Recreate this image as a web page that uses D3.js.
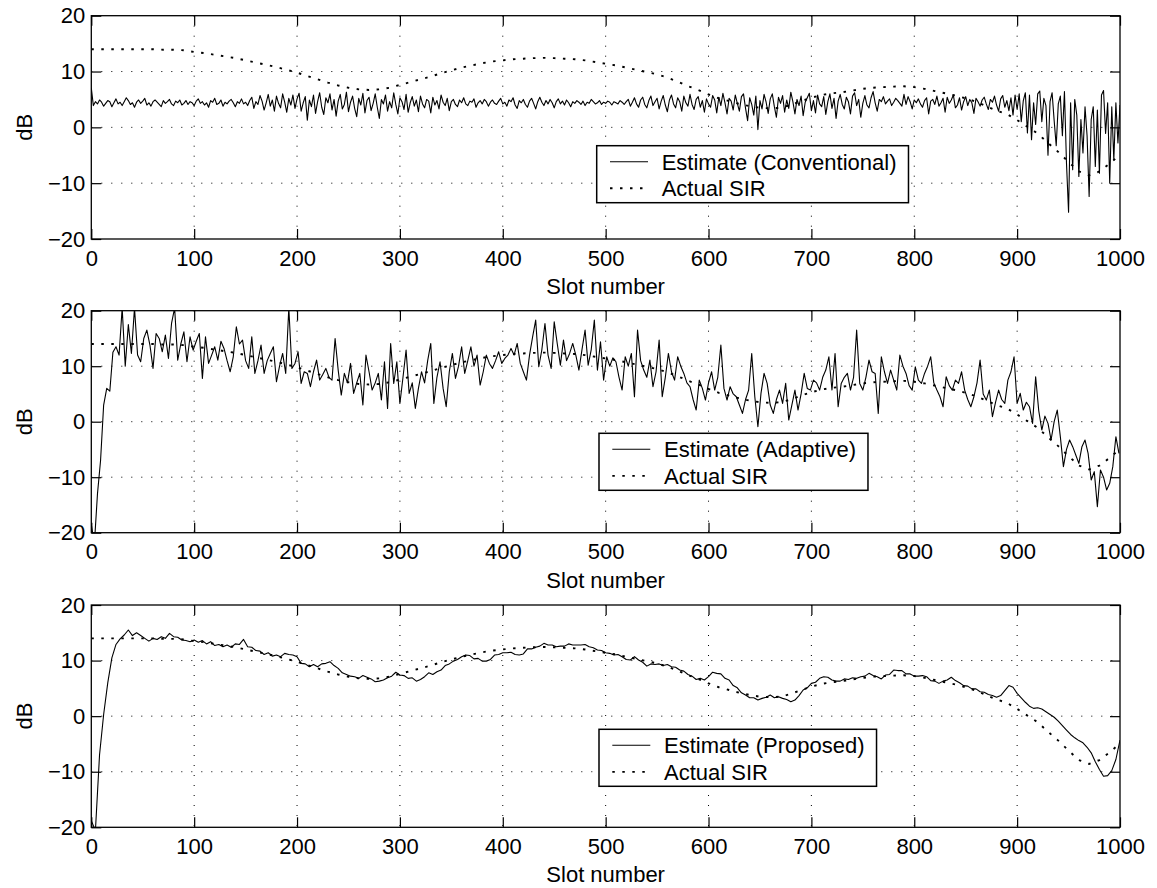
<!DOCTYPE html>
<html>
<head>
<meta charset="utf-8">
<script src="https://cdn.jsdelivr.net/npm/d3@7"></script>
<style>
  html, body { margin: 0; padding: 0; background: #fff; }
  svg { display: block; font-family: "Liberation Sans", Arial, Helvetica, sans-serif; }
</style>
</head>
<body>
<svg id="fig" width="1157" height="888"></svg>
<script>
// ---- axis ticks and labels ----
const slotTicks = [0, 100, 200, 300, 400, 500, 600, 700, 800, 900, 1000];
const dbTicks = [-20, -10, 0, 10, 20];
const estimateNames = ["Estimate (Conventional)", "Estimate (Adaptive)", "Estimate (Proposed)"];
const sirName = "Actual SIR";
const xLabel = "Slot number";
const yLabel = "dB";

// ---- actual SIR, one value every 10 slots ----
const sirStep = 10;
const actualSIR = [
  14.0, 14.0, 14.0, 14.0, 14.0, 14.0, 14.0, 13.9, 13.9, 13.8,
  13.5, 13.3, 13.0, 12.7, 12.4, 12.0, 11.6, 11.2, 10.8, 10.3,
  9.8, 9.2, 8.6, 8.0, 7.5, 7.1, 6.8, 6.7, 6.8, 7.1,
  7.6, 8.1, 8.6, 9.1, 9.7, 10.2, 10.7, 11.1, 11.5, 11.8,
  12.0, 12.2, 12.3, 12.4, 12.45, 12.4, 12.3, 12.2, 12.0, 11.7,
  11.4, 11.1, 10.7, 10.3, 9.9, 9.5, 8.9, 8.2, 7.4, 6.7,
  5.9, 5.2, 4.7, 4.2, 3.8, 3.5, 3.4, 3.5, 4.0, 4.7,
  5.3, 5.8, 6.1, 6.3, 6.6, 6.9, 7.1, 7.2, 7.3, 7.35,
  7.2, 6.9, 6.5, 6.1, 5.7, 5.2, 4.6, 3.8, 3.0, 2.4,
  1.3, 0.1, -1.1, -2.8, -4.4, -6.2, -7.9, -8.6, -7.9, -6.5,
  -4.9
];

// ---- conventional estimate, one value every 2 slots ----
const conventionalStep = 2;
const conventionalEst = [
  7.1,3.9,4.6,4.2,4.9, 4.5,3.8,4.3,4.8,4.6, 3.7,4.4,5.1,4.2,4.5, 3.9,4.6,5.3,4.8,4.1, 4.4,3.6,4.5,4.9,4.3,
  4.7,5.2,4.0,4.4,3.8, 4.6,4.9,4.5,4.1,3.7, 4.8,4.3,4.6,5.0,4.2, 3.9,4.7,4.4,4.9,4.0, 4.3,4.8,4.1,4.6,4.4,
  3.9,4.7,5.1,4.3,4.6, 4.0,4.4,3.6,4.8,4.5, 5.2,4.1,4.3,4.9,3.8, 4.5,4.2,4.7,5.0,4.4, 3.7,4.6,4.3,5.1,4.2,
  4.5,3.9,4.8,5.4,3.4, 4.6,4.1,5.7,4.7,3.1, 4.4,5.9,3.8,4.9,2.9, 5.6,4.3,3.5,6.0,4.5, 2.7,5.2,4.0,5.8,3.4,
  5.1,6.1,2.9,4.4,5.5, 1.3,4.9,3.7,5.8,2.5, 4.6,6.2,3.6,2.3,5.3, 4.4,6.0,3.1,5.0,2.0, 4.7,5.9,3.3,4.1,6.3,
  2.8,4.5,5.6,3.4,1.9, 5.2,4.0,6.1,2.6,4.8, 5.4,3.0,4.3,6.0,3.6, 1.6,5.0,4.2,5.8,2.9, 4.6,3.5,6.2,4.1,2.4,
  5.3,4.6,3.2,5.9,2.7, 4.4,5.5,3.8,4.9,2.8, 5.6,4.2,3.5,5.0,4.7, 2.6,5.4,4.0,4.8,3.3, 5.8,4.5,3.9,5.2,3.0,
  4.6,5.0,4.1,3.7,4.9, 4.4,5.3,4.2,3.9,4.7, 4.5,5.1,3.6,4.4,4.8, 4.2,5.0,4.6,3.8,4.5, 4.9,4.3,4.1,4.7,5.2,
  4.2,4.5,3.8,4.9,4.6, 5.3,4.0,3.4,4.8,4.4, 5.0,4.1,3.6,4.7,5.2, 4.3,3.3,4.6,5.4,4.5, 3.9,4.8,4.2,5.0,4.4,
  3.5,4.6,5.1,4.2,4.7, 4.0,4.9,4.4,3.7,4.6, 4.3,4.8,4.5,4.1,4.7, 3.9,4.5,4.3,5.0,4.6, 4.2,4.4,4.8,4.1,4.5,
  4.3,4.7,4.5,4.0,4.6, 4.4,4.2,4.8,4.5,4.1, 4.6,5.0,3.8,4.5,5.3, 4.2,3.6,4.9,5.4,4.1, 3.5,4.8,5.6,3.9,4.6,
  5.2,3.3,4.7,5.7,4.0, 2.8,4.9,5.8,4.2,3.5, 5.3,4.6,2.9,5.6,4.4, 3.8,5.9,4.1,3.2,5.0, 5.5,3.6,4.8,2.7,5.1,
  4.2,3.6,5.7,4.9,2.6, 5.4,3.9,6.1,4.4,2.4, 5.2,4.7,3.1,5.8,4.3, 2.9,5.5,6.0,3.4,1.2, 5.3,4.1,2.2,5.6,-0.4,
  4.8,3.3,5.9,4.5,2.5, 5.1,6.0,3.7,1.8,5.4, 4.3,5.7,2.7,4.9,3.4, 6.3,4.6,2.4,5.0,3.9, 5.6,2.1,4.5,5.3,6.1,
  3.0,4.8,2.6,5.8,4.2, 3.7,5.5,2.3,4.6,6.0, 3.4,5.2,1.6,4.7,5.9, 4.1,3.3,5.4,4.6,2.4, 5.6,6.2,3.9,5.0,1.8,
  4.3,5.7,4.0,3.5,5.3, 6.4,4.4,2.9,5.0,4.6, 5.5,4.2,4.7,5.1,3.9, 4.5,5.2,4.8,4.3,3.8, 5.9,4.1,5.5,4.6,3.3,
  4.9,4.4,5.1,4.2,3.6, 4.8,5.3,2.4,4.7,5.0, 4.1,5.6,3.8,4.4,5.2, 2.7,5.4,4.3,4.9,5.8, 3.5,4.0,5.3,3.1,4.6,
  5.5,3.9,5.0,4.4,2.5, 5.2,4.6,3.8,4.9,5.4, 4.2,3.2,5.0,4.5,5.6, 4.0,2.9,5.1,5.7,3.6, 4.8,3.0,5.3,2.2,5.8,
  3.2,6.0,1.0,4.8,6.2, -1.0,5.8,-2.2,4.4,0.5, 6.0,6.5,1.0,5.2,3.9, -5.0,4.6,6.2,1.2,-3.3, 4.2,5.6,-1.5,6.4,-6.5,
  -15.2,4.4,-7.6,5.0,2.2, -8.8,1.4,-4.6,3.7,-1.5, -12.4,1.4,3.7,-7.0,3.1, -8.2,5.8,6.6,-1.1,4.4, -10.0,3.7,-5.8,4.4,-2.8,
  4.0
];

// ---- adaptive estimate, one value every 3 slots ----
const adaptiveStep = 3;
const adaptiveEst = [
  -18.5, -22, -13, -7, 3, 6, 5.5, 12.5, 13.5, 12,
  20.5, 10, 17.5, 12.3, 20.5, 12, 10.8, 15, 16.5, 13.8,
  9.6, 15.9, 15, 12.6, 15.6, 11.4, 17.7, 20.5, 11.1, 14,
  16.2, 10.8, 15.3, 12.9, 14.5, 15.9, 7.8, 15.3, 10.5, 12,
  13.5, 11.1, 14.5, 13.2, 11, 9.0, 11.7, 17.1, 14, 14.7,
  11, 9.6, 15.3, 8.7, 11, 13.8, 8.7, 11, 12.3, 13.5,
  7.2, 10, 12.3, 8.7, 20.5, 9.6, 10.5, 12.6, 6.9, 9,
  8.7, 6.3, 9, 11.1, 7.5, 8.5, 9.6, 8, 7.5, 15,
  9.3, 4.8, 8.7, 7, 10.5, 5.1, 7, 8.7, 3.0, 12.0,
  9, 5.7, 7, 8.7, 3.9, 10.8, 2.4, 14.1, 6.9, 10.8,
  3.3, 8, 12.9, 5.1, 7, 2.4, 6, 9, 7, 11,
  14.1, 3.3, 8, 10.8, 6, 2.7, 9, 12.3, 7.8, 10,
  13.5, 8.7, 11, 13.5, 10, 12, 6.6, 9, 12, 10.5,
  9.6, 11, 12.6, 10.5, 11.4, 12, 13.2, 12, 14.1, 10.5,
  9, 7.5, 12, 15.3, 18.3, 9.9, 13, 17.7, 12, 9.6,
  18, 14, 10.2, 14.7, 11, 12.3, 14.1, 12, 9.3, 13,
  16.5, 10.2, 13, 18.3, 9.3, 14.4, 7.5, 11.7, 10, 11.5,
  10.8, 8, 5.7, 11.7, 10, 12.3, 4.5, 16.5, 11, 9.3,
  8, 11.1, 6.3, 9, 14.7, 4.5, 8, 12.3, 9, 7.5,
  11.7, 10, 8.7, 7, 6.3, 4, 2.1, 7.5, 6, 3.9,
  7, 9, 5.7, 8, 13.8, 6, 3.9, 6.3, 5, 4.5,
  3, 1.5, 4, 5.7, 12.3, 4.5, -0.9, 5.1, 8.7, 6.9,
  3, 1.5, 4, 5.7, 3.3, 6.9, 0.3, 3, 5.7, 2.1,
  5, 8.7, 6, 5.7, 7.5, 7, 5.7, 8, 9.3, 11.7,
  5.7, 12.3, 2.7, 6.9, 8, 8.7, 5.7, 8, 16.5, 6.9,
  5.7, 8, 11.1, 9, 8.7, 1.5, 11.7, 9, 6.9, 9.3,
  7.5, 5.7, 12, 10, 8.7, 6.5, 5.7, 9.9, 7.5, 6.9,
  8.7, 10, 11.7, 7, 5.7, 4.5, 2.7, 8.1, 6.5, 5.7,
  7.5, 6.9, 9, 5.7, 4, 2.7, 4.5, 7, 11.1, 5,
  3.9, 5.7, 0.9, 3.5, 5.7, 4, 3.3, 7.5, 9, 11.7,
  3.3, 5.1, 2.1, 3.5, 2.7, -0.3, 8.1, 2, -1.5, 1,
  -0.3, -3.3, 0, 2.1, -2.7, -8.1, -5, -3.3, -4.5, -6,
  -7.5, -4.5, -3.3, -5.7, -10.5, -9, -15.3, -8.7, -10, -12.3,
  -11.1, -8.1, -2.7, -5.7
];

// ---- proposed estimate, one value every 4 slots ----
const proposedStep = 4;
const proposedEst = [
  -18.8, -20.6, -7.0, 0.3, 6.0, 10.5, 12.9, 13.9, 14.6, 15.5,
  14.5, 15.0, 14.5, 14.0, 13.5, 14.0, 13.8, 14.3, 14.0, 14.9,
  14.3, 14.2, 13.7, 13.6, 13.4, 13.7, 13.3, 13.6, 13.0, 13.4,
  12.7, 12.9, 12.5, 12.8, 12.4, 13.0, 12.9, 13.8, 12.5, 12.4,
  11.8, 11.7, 11.1, 11.4, 10.8, 11.0, 10.7, 11.3, 11.1, 11.0,
  10.7, 9.5, 9.4, 8.9, 9.3, 8.9, 9.4, 9.5, 9.8, 9.1,
  8.6, 7.8, 7.5, 7.2, 7.1, 6.8, 7.3, 7.0, 6.7, 6.2,
  6.3, 6.5, 6.9, 7.2, 7.9, 7.4, 7.3, 6.8, 6.9, 6.3,
  6.6, 7.1, 7.8, 7.5, 8.0, 8.3, 9.1, 9.4, 9.9, 10.2,
  10.7, 11.0, 10.9, 10.3, 10.4, 9.9, 9.9, 10.2, 11.0, 11.1,
  11.4, 11.4, 11.5, 11.1, 11.0, 11.2, 12.1, 12.1, 12.4, 12.6,
  13.1, 12.8, 12.8, 12.5, 12.6, 12.6, 13.0, 12.8, 12.8, 12.8,
  12.9, 12.5, 12.3, 11.9, 11.8, 11.4, 11.3, 11.0, 11.1, 10.7,
  10.2, 10.1, 10.7, 10.1, 9.7, 9.0, 9.4, 9.3, 9.4, 9.1,
  9.3, 8.9, 8.8, 8.3, 8.1, 7.5, 7.2, 6.6, 6.8, 6.5,
  7.1, 7.9, 7.7, 7.6, 6.8, 6.5, 5.5, 5.1, 4.2, 3.8,
  3.3, 3.3, 2.9, 3.2, 3.4, 3.8, 3.3, 3.5, 3.2, 3.0,
  2.6, 2.9, 3.7, 4.7, 5.1, 5.9, 6.1, 6.8, 7.1, 7.0,
  6.5, 6.3, 6.3, 6.7, 6.6, 6.9, 6.8, 7.1, 7.2, 7.7,
  7.3, 7.1, 6.7, 7.4, 7.5, 8.3, 8.2, 8.2, 7.6, 7.6,
  7.2, 7.2, 7.3, 7.1, 6.4, 6.3, 5.9, 6.3, 6.5, 7.0,
  6.4, 6.0, 5.5, 5.4, 4.9, 4.9, 4.4, 4.3, 3.9, 3.7,
  3.4, 3.7, 4.6, 5.5, 5.2, 4.1, 3.3, 2.5, 1.8, 1.4,
  1.5, 1.3, 0.8, 0.3, -0.2, -0.9, -1.7, -2.5, -3.3, -3.9,
  -4.4, -4.8, -5.6, -6.6, -8.2, -9.6, -10.8, -10.7, -9.8, -7.8,
  -4.3
];

// ---- figure layout ----
const FONT = 22;
const plotLeft = 91.3, plotRight = 1120;
const panels = [
  { top: 15.7,  bottom: 239,   est: conventionalEst, step: conventionalStep, name: estimateNames[0], legend: { x: 596.7, y: 145.7 } },
  { top: 310.7, bottom: 532.7, est: adaptiveEst,     step: adaptiveStep,     name: estimateNames[1], legend: { x: 599,   y: 433.3 } },
  { top: 605,   bottom: 827.3, est: proposedEst,     step: proposedStep,     name: estimateNames[2], legend: { x: 599,   y: 729.3 } }
];
const sirDash = "2.5,7.5";

const svg = d3.select("#fig");
svg.append("rect").attr("width", 1157).attr("height", 888).attr("fill", "#fff");

const x = d3.scaleLinear().domain([0, 1000]).range([plotLeft, plotRight]);
const sirPoints = actualSIR.map((v, i) => [i * sirStep, v]);

panels.forEach((p, k) => {
  const y = d3.scaleLinear().domain([-20, 20]).range([p.bottom, p.top]);
  const g = svg.append("g");
  const w = plotRight - plotLeft, h = p.bottom - p.top;

  const clipId = "clip" + k;
  g.append("clipPath").attr("id", clipId)
    .append("rect").attr("x", plotLeft).attr("y", p.top).attr("width", w).attr("height", h);

  // dotted grid
  const grid = g.append("g").attr("stroke", "#000").attr("stroke-width", 1)
    .attr("stroke-dasharray", "1,9").attr("fill", "none");
  grid.selectAll("line.gx").data(slotTicks.slice(1, -1)).join("line").attr("class", "gx")
    .attr("x1", d => x(d)).attr("x2", d => x(d)).attr("y1", p.top).attr("y2", p.bottom);
  grid.selectAll("line.gy").data(dbTicks.slice(1, -1)).join("line").attr("class", "gy")
    .attr("x1", plotLeft).attr("x2", plotRight).attr("y1", d => y(d)).attr("y2", d => y(d));

  // data lines
  const line = d3.line().x(d => x(d[0])).y(d => y(d[1]));
  const estPoints = p.est.map((v, i) => [i * p.step, v]);
  const data = g.append("g").attr("clip-path", `url(#${clipId})`);
  data.append("path").datum(estPoints).attr("d", line)
    .attr("fill", "none").attr("stroke", "#000").attr("stroke-width", 1.1).attr("stroke-linejoin", "round");
  data.append("path").datum(sirPoints).attr("d", line)
    .attr("fill", "none").attr("stroke", "#000").attr("stroke-width", 1.9).attr("stroke-dasharray", sirDash);

  // axes with inward ticks on all four sides
  const fmt = d3.format("d");
  const ax = g.append("g").attr("transform", `translate(0,${p.bottom})`)
    .call(d3.axisBottom(x).tickValues(slotTicks).tickSizeInner(-10).tickSizeOuter(0).tickPadding(11).tickFormat(fmt));
  const axT = g.append("g").attr("transform", `translate(0,${p.top})`)
    .call(d3.axisTop(x).tickValues(slotTicks).tickSizeInner(-10).tickSizeOuter(0).tickFormat(""));
  const ay = g.append("g").attr("transform", `translate(${plotLeft},0)`)
    .call(d3.axisLeft(y).tickValues(dbTicks).tickSizeInner(-10).tickSizeOuter(0).tickPadding(6).tickFormat(fmt));
  const ayR = g.append("g").attr("transform", `translate(${plotRight},0)`)
    .call(d3.axisRight(y).tickValues(dbTicks).tickSizeInner(-10).tickSizeOuter(0).tickFormat(""));
  [ax, axT, ay, ayR].forEach(a => {
    a.select(".domain").remove();
    a.selectAll("line").attr("stroke", "#000").attr("stroke-width", 1.2);
    a.selectAll("text").attr("fill", "#000").style("font-size", FONT + "px")
      .style("font-family", '"Liberation Sans", Arial, Helvetica, sans-serif');
  });

  // axes box
  g.append("rect").attr("x", plotLeft).attr("y", p.top).attr("width", w).attr("height", h)
    .attr("fill", "none").attr("stroke", "#000").attr("stroke-width", 1.3);

  // axis labels
  g.append("text").attr("x", (plotLeft + plotRight) / 2).attr("y", p.bottom + 55)
    .attr("text-anchor", "middle").style("font-size", FONT + "px").text(xLabel);
  g.append("text").attr("transform", `translate(31.5,${(p.top + p.bottom) / 2}) rotate(-90)`)
    .attr("text-anchor", "middle").style("font-size", FONT + "px").text(yLabel);

  // legend
  const lg = g.append("g").attr("transform", `translate(${p.legend.x},${p.legend.y})`);
  const box = lg.append("rect").attr("fill", "#fff").attr("stroke", "#000").attr("stroke-width", 1.5);
  const rows = [
    { label: p.name, dash: null, cy: 16 },
    { label: sirName, dash: sirDash, cy: 42.6 }
  ];
  let maxLen = 0;
  rows.forEach(r => {
    lg.append("line").attr("x1", 13.3).attr("x2", 51.3).attr("y1", r.cy).attr("y2", r.cy)
      .attr("stroke", "#000").attr("stroke-width", r.dash ? 1.9 : 1.1)
      .attr("stroke-dasharray", r.dash);
    const t = lg.append("text").attr("x", 65).attr("y", r.cy + 7.9)
      .style("font-size", FONT + "px").text(r.label);
    maxLen = Math.max(maxLen, t.node().getComputedTextLength());
  });
  box.attr("x", 0).attr("y", 0).attr("width", 65 + maxLen + 12).attr("height", 57);
});
</script>
</body>
</html>
